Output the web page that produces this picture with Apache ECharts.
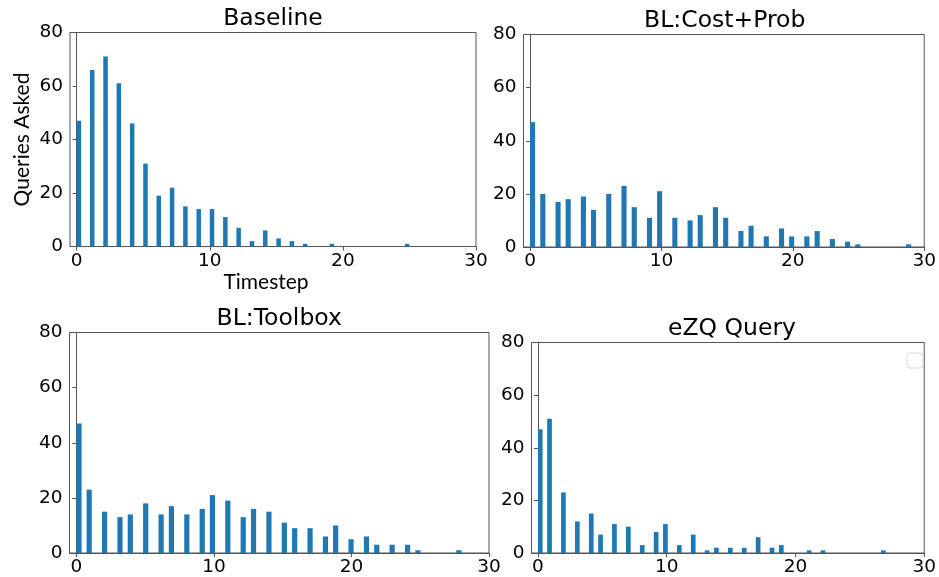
<!DOCTYPE html>
<html>
<head>
<meta charset="utf-8">
<title>Queries Asked per Timestep</title>
<script src="https://cdn.jsdelivr.net/npm/echarts@6/dist/echarts.min.js"></script>
<style>
html, body { margin: 0; padding: 0; background: #fff; }
#main { width: 939px; height: 577px; }
</style>
</head>
<body>
<div id="main"></div>
<script type="text/javascript">
// panel titles
var panelNames = ['Baseline', 'BL:Cost+Prob', 'BL:Toolbox', 'eZQ Query'];
// tick labels
var xTicks = [0, 10, 20, 30];
var yTicks = [0, 20, 40, 60, 80];

// Baseline: bar centres on the timestep axis, and queries asked
var baseX = [0.17, 1.17, 2.17, 3.17, 4.17, 5.17, 6.17, 7.17, 8.17, 9.17,
	10.17, 11.17, 12.17, 13.17, 14.17, 15.17, 16.17, 17.17, 19.17, 24.83];
var baseY = [47, 66, 71, 61, 46, 31, 19, 22, 15, 14,
	14, 11, 7, 2, 6, 3, 2, 1, 1, 1];

// BL:Cost+Prob
var costX = [0.19, 0.97, 2.13, 2.90, 4.06, 4.83, 5.99, 7.15, 7.93, 9.09,
	9.86, 11.02, 12.18, 12.95, 14.11, 14.89, 16.05, 16.82, 17.98, 19.14,
	19.91, 21.07, 21.85, 23.01, 24.17, 24.94, 28.81];
var costY = [47, 20, 17, 18, 19, 14, 20, 23, 15, 11,
	21, 11, 10, 12, 15, 11, 6, 8, 4, 7,
	4, 4, 6, 3, 2, 1, 1];

// BL:Toolbox
var toolX = [0.19, 0.93, 2.05, 3.17, 3.92, 5.04, 6.16, 6.91, 8.03, 9.15,
	9.89, 11.01, 12.13, 12.88, 14.00, 15.12, 15.87, 16.99, 18.11, 18.85,
	19.97, 21.09, 21.84, 22.96, 24.08, 24.83, 27.81];
var toolY = [47, 23, 15, 13, 14, 18, 14, 17, 14, 16,
	21, 19, 13, 16, 15, 11, 9, 9, 6, 10,
	5, 6, 3, 3, 3, 1, 1];

// eZQ Query
var ezqX = [0.18, 0.90, 1.98, 3.06, 4.14, 4.86, 5.94, 7.02, 8.10, 9.18,
	9.90, 10.98, 12.06, 13.14, 13.86, 14.94, 16.02, 17.10, 18.18, 18.90,
	21.06, 22.14, 26.82];
var ezqY = [47, 51, 23, 12, 15, 7, 11, 10, 3, 8,
	11, 3, 7, 1, 2, 2, 2, 6, 2, 3,
	1, 1, 1];

var panelX = [baseX, costX, toolX, ezqX];
var panelY = [baseY, costY, toolY, ezqY];

// 子图位置 (px)
var boxes = [
	{ left: 70, top: 32.5, width: 406, height: 214 },
	{ left: 523.5, top: 34.5, width: 402.5, height: 212.5 },
	{ left: 69.5, top: 332.5, width: 419.5, height: 221 },
	{ left: 531.5, top: 342.5, width: 401, height: 212 }
];
var barWidths = [4.5, 5.1, 5.2, 4.7];

var tickFont = 'DejaVu Sans';
var labelFont = 'Lato';
var lineColor = '#555';

var myChart = echarts.init(document.getElementById('main'));

var grids = [], xAxes = [], yAxes = [], series = [], titles = [];
for (var i = 0; i < 4; i++) {
	var b = boxes[i];
	grids.push({
		left: b.left, top: b.top, width: b.width, height: b.height,
		show: true, borderColor: lineColor, borderWidth: 1,
		backgroundColor: 'transparent', containLabel: false
	});
	titles.push({
		text: panelNames[i],
		left: b.left + b.width / 2,
		top: b.top - 25.5,
		textAlign: 'center',
		padding: 0,
		textStyle: { fontFamily: tickFont, fontSize: 23.5, fontWeight: 'normal', color: '#000' }
	});
	xAxes.push({
		type: 'value', gridIndex: i, min: -0.5, max: 30,
		axisLine: { show: true, lineStyle: { color: lineColor } },
		axisTick: { show: true, customValues: xTicks, length: 4, lineStyle: { color: lineColor } },
		axisLabel: { customValues: xTicks, fontFamily: tickFont, fontSize: 18.5, color: '#000', margin: 5 },
		splitLine: { show: false },
		name: i === 0 ? 'Timestep' : '',
		nameLocation: 'middle',
		nameGap: 23,
		nameTextStyle: { fontFamily: labelFont, fontSize: 21, color: '#000', padding: [0, 14, 0, 0] }
	});
	yAxes.push({
		type: 'value', gridIndex: i, min: yTicks[0], max: yTicks[yTicks.length - 1], interval: 20,
		axisLine: { show: true, lineStyle: { color: lineColor } },
		axisTick: { show: true, length: 4, lineStyle: { color: lineColor } },
		axisLabel: { fontFamily: tickFont, fontSize: 18.5, color: '#000', margin: 7 },
		splitLine: { show: false },
		name: i === 0 ? 'Queries Asked' : '',
		nameLocation: 'middle',
		nameGap: 37,
		nameTextStyle: { fontFamily: labelFont, fontSize: 21, color: '#000' }
	});
	series.push({
		name: panelNames[i],
		type: 'bar',
		xAxisIndex: i, yAxisIndex: i,
		barWidth: barWidths[i],
		itemStyle: { color: '#1f77b4' },
		data: panelX[i].map(function (x, j) { return [x, panelY[i][j]]; })
	});
}

var option = {
	animation: false,
	backgroundColor: '#fff',
	title: titles,
	grid: grids,
	xAxis: xAxes,
	yAxis: yAxes,
	series: series,
	// 空的图例框 (eZQ Query 右上角)
	graphic: [{
		type: 'rect',
		shape: { x: 907, y: 353, width: 16, height: 15, r: 3 },
		style: { fill: '#fff', stroke: '#d8d8d8', lineWidth: 1 }
	}]
};

myChart.setOption(option);
</script>
</body>
</html>
